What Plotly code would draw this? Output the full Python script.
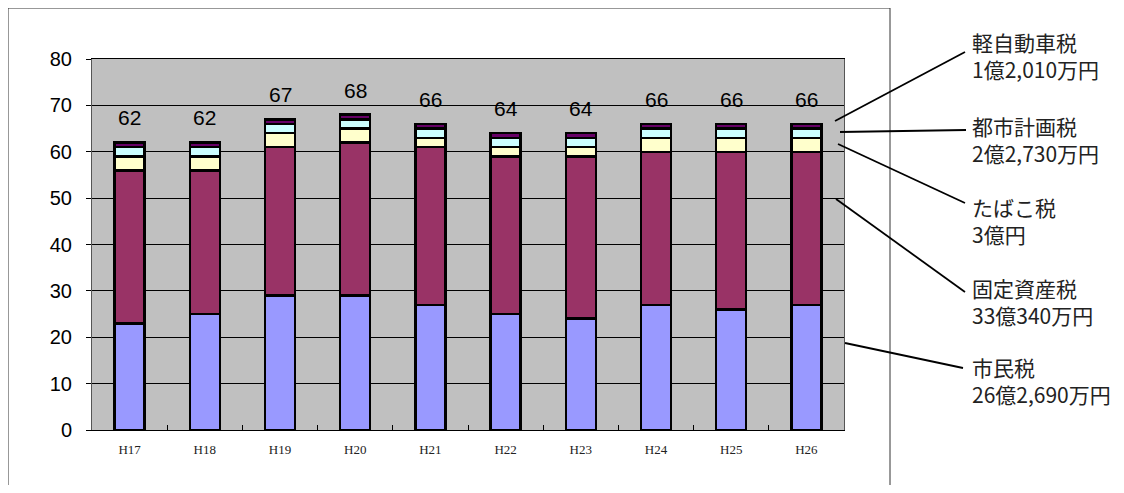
import plotly.graph_objects as go

years = ["H17", "H18", "H19", "H20", "H21", "H22", "H23", "H24", "H25", "H26"]
shimin = [23, 25, 29, 29, 27, 25, 24, 27, 26, 27]          # 市民税
kotei = [33, 31, 32, 33, 34, 34, 35, 33, 34, 33]           # 固定資産税
tabako = [3, 3, 3, 3, 2, 2, 2, 3, 3, 3]                    # たばこ税
toshi = [2, 2, 2, 2, 2, 2, 2, 2, 2, 2]                     # 都市計画税
keiji = [1, 1, 1, 1, 1, 1, 1, 1, 1, 1]                     # 軽自動車税
totals = [62, 62, 67, 68, 66, 64, 64, 66, 66, 66]

series = [
    ("市民税", shimin, "#9999FF"),
    ("固定資産税", kotei, "#993366"),
    ("たばこ税", tabako, "#FFFFCC"),
    ("都市計画税", toshi, "#CCFFFF"),
    ("軽自動車税", keiji, "#660066"),
]

labels_right = [
    ("軽自動車税<br>1億2,010万円", 56, (835, 121), (965, 52)),
    ("都市計画税<br>2億2,730万円", 139, (840, 132), (966, 130)),
    ("たばこ税<br>3億円", 220, (838, 144), (965, 203)),
    ("固定資産税<br>33億340万円", 301, (836, 199), (965, 292)),
    ("市民税<br>26億2,690万円", 380, (845, 343), (963, 368)),
]

OFF = 8  # page body margin
W, H = 1124 - 2 * OFF, 493 - 2 * OFF
# plot area in page pixels: x 92..844, y 59..430
L, R = 92 - OFF, W - (844 - OFF)
T, B = 59 - OFF, H - (430 - OFF)
PW, PH = W - L - R, H - T - B


def px(x, y):
    # page pixel -> paper coordinates
    return (x - OFF - L) / PW, (H - B - (y - OFF)) / PH


fig = go.Figure()
for name, vals, col in series:
    fig.add_trace(go.Bar(
        x=years, y=vals, name=name,
        marker=dict(color=col, line=dict(color="black", width=2.5)),
    ))

for yr, tot in zip(years, totals):
    fig.add_annotation(x=yr, y=tot, text=str(tot), showarrow=False,
                       yanchor="bottom", yshift=11,
                       font=dict(family="Liberation Sans, Arial", size=21, color="black"))

cjk = "Noto Sans CJK JP"
for txt, yc, p0, p1 in labels_right:
    x0, y0 = px(*p0)
    x1, y1 = px(*p1)
    fig.add_shape(type="line", xref="paper", yref="paper", x0=x0, y0=y0, x1=x1, y1=y1,
                  line=dict(color="black", width=1.8))
    tx, ty = px(970, yc)
    fig.add_annotation(xref="paper", yref="paper", x=tx, y=ty, text=txt, showarrow=False,
                       xanchor="left", yanchor="middle", align="left",
                       font=dict(family=cjk, size=21, color="#222222"))

# outer chart border
bx0, by0 = px(8, 8)
bx1, by1 = px(890, 520)
fig.add_shape(type="rect", xref="paper", yref="paper", x0=bx0, y0=by1, x1=bx1, y1=by0,
              line=dict(color="#333333", width=1), layer="below")

fig.update_layout(
    width=W, height=H,
    margin=dict(l=L, r=R, t=T, b=B),
    barmode="stack",
    bargap=0.6,
    showlegend=False,
    paper_bgcolor="white",
    plot_bgcolor="#C0C0C0",
    xaxis=dict(
        type="category", tickson="boundaries", ticks="inside", ticklen=5, tickcolor="black",
        showline=True, linecolor="black", linewidth=1, mirror=True,
        tickfont=dict(family="Liberation Serif, DejaVu Serif", size=13, color="#222222"),
        ticklabelstandoff=7,
    ),
    yaxis=dict(
        range=[0, 80], dtick=10, ticks="outside", ticklen=5, tickcolor="black",
        showgrid=True, gridcolor="black", gridwidth=1,
        showline=True, linecolor="#555555", linewidth=1, mirror=True,
        zeroline=False,
        tickfont=dict(family="Liberation Sans, Arial", size=20, color="black"),
        ticklabelstandoff=10,
    ),
)

fig.write_html("out.html")
